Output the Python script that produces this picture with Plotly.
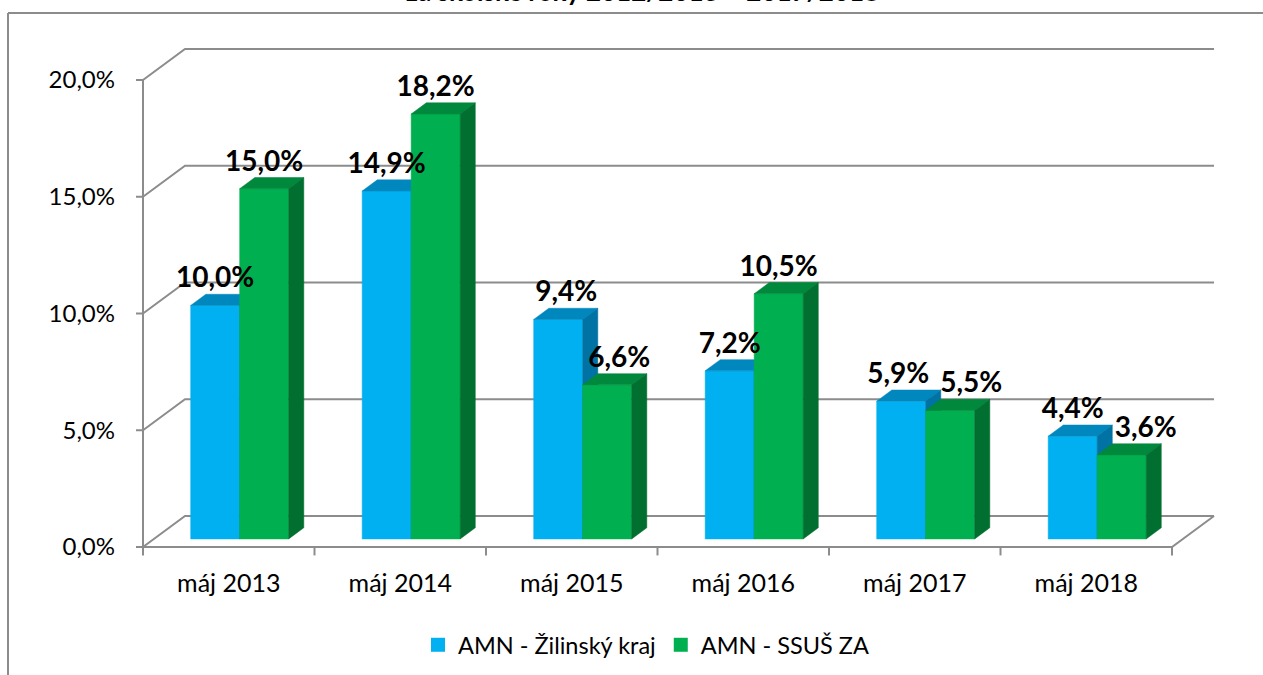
import plotly.graph_objects as go

# ---------------- data ----------------
categories = ["máj 2013", "máj 2014", "máj 2015", "máj 2016", "máj 2017", "máj 2018"]
zilinsky_kraj = [10.0, 14.9, 9.4, 7.2, 5.9, 4.4]
ssus_za = [15.0, 18.2, 6.6, 10.5, 5.5, 3.6]
series_names = ["AMN - Žilinský kraj", "AMN - SSUŠ ZA"]
y_ticks = [0, 5, 10, 15, 20]
y_tick_labels = ["0,0%", "5,0%", "10,0%", "15,0%", "20,0%"]
title_text = "za školské roky 2012/2013 – 2017/2018"

# ---------------- style ----------------
FONT = "Lato, 'Open Sans', sans-serif"
GRAY = "#8C8C8C"
BLUE = ("#00B0F0", "#0088BE", "#0072A3")   # front, top, side
GREEN = ("#00B050", "#00883C", "#006F30")
DX, DY = 0.245, 1.328   # oblique projection of full depth (x units, y units)
Z0, Z1 = 0.26, 0.62     # bar depth (fraction of floor depth)
HALF = 0.2857           # bar width (category units)
PX_PER_CAT = 171.5
# horizontal nudges (pixels) of the data labels, as placed in the original
label_nudge_blue = [0, 0, 8, 0, -3, 0]
label_nudge_green = [0, 0, 12, 0, 21, 24]
N = len(categories)


def P(x, y, z):
    return x + z * DX, y + z * DY


def faces(x0, x1, v):
    front = [P(x0, 0, Z0), P(x1, 0, Z0), P(x1, v, Z0), P(x0, v, Z0)]
    top = [P(x0, v, Z0), P(x1, v, Z0), P(x1, v, Z1), P(x0, v, Z1)]
    side = [P(x1, 0, Z0), P(x1, 0, Z1), P(x1, v, Z1), P(x1, v, Z0)]
    return front, top, side


def poly_trace(polys, color):
    xs, ys = [], []
    for poly in polys:
        for (a, b) in poly + [poly[0]]:
            xs.append(a)
            ys.append(b)
        xs.append(None)
        ys.append(None)
    return go.Scatter(x=xs, y=ys, mode="lines", fill="toself", fillcolor=color,
                      line=dict(color=color, width=0.5), hoverinfo="skip",
                      showlegend=False)


fig = go.Figure()

# ---------- back wall gridlines, floor, axis ----------
gx, gy = [], []
for t in y_ticks:
    a = P(0, t, 0)
    b = P(0, t, 1)
    c = P(N, t, 1)
    gx += [a[0], b[0], c[0], None]
    gy += [a[1], b[1], c[1], None]
f1, f2, f3 = P(0, 0, 0), P(N, 0, 0), P(N, 0, 1)
gx += [f1[0], f2[0], f3[0], None]
gy += [f1[1], f2[1], f3[1], None]
gx += [0, 0, None]
gy += [0, y_ticks[-1], None]
for t in y_ticks:
    gx += [-0.041, 0, None]
    gy += [t, t, None]
for i in range(N + 1):
    gx += [i, i, None]
    gy += [0, -0.36, None]
fig.add_trace(go.Scatter(x=gx, y=gy, mode="lines", line=dict(color=GRAY, width=2),
                         hoverinfo="skip", showlegend=False))

# ---------- 3D bars ----------
blue_f, blue_t, blue_s, green_f, green_t, green_s = [], [], [], [], [], []
for i in range(N):
    f, t, s = faces(i + 0.5 - HALF, i + 0.5, zilinsky_kraj[i])
    blue_f.append(f); blue_t.append(t); blue_s.append(s)
    f, t, s = faces(i + 0.5, i + 0.5 + HALF, ssus_za[i])
    green_f.append(f); green_t.append(t); green_s.append(s)

fig.add_trace(poly_trace(blue_f, BLUE[0]))
fig.add_trace(poly_trace(blue_t, BLUE[1]))
fig.add_trace(poly_trace(blue_s, BLUE[2]))
fig.add_trace(poly_trace(green_f, GREEN[0]))
fig.add_trace(poly_trace(green_t, GREEN[1]))
fig.add_trace(poly_trace(green_s, GREEN[2]))

# ---------- data labels ----------
def fmt(v):
    return f"{v:.1f}".replace(".", ",") + "%"

for vals, xc, nudge in ((zilinsky_kraj, 0.5 - HALF / 2, label_nudge_blue),
                        (ssus_za, 0.5 + HALF / 2, label_nudge_green)):
    lx = [i + xc + Z0 * DX + nudge[i] / PX_PER_CAT for i in range(N)]
    ly = [v + Z1 * DY for v in vals]
    fig.add_trace(go.Scatter(x=lx, y=ly, mode="text", text=[fmt(v) for v in vals],
                             textposition="top center", cliponaxis=False,
                             textfont=dict(family=FONT, size=28, color="#000000", weight="bold"),
                             hoverinfo="skip", showlegend=False))

# ---------- legend entries ----------
for name, col in zip(series_names, (BLUE[0], GREEN[0])):
    fig.add_trace(go.Scatter(x=[None], y=[None], mode="markers", name=name,
                             marker=dict(symbol="square", size=14, color=col)))

x_min = -10 / PX_PER_CAT
x_max = x_min + 1085 / PX_PER_CAT
y_min = -13 / 23.35
y_max = y_min + 520 / 23.35

fig.update_layout(
    width=1263, height=675,
    margin=dict(l=133, r=45, t=40, b=115, autoexpand=False),
    paper_bgcolor="white", plot_bgcolor="white",
    font=dict(family=FONT, size=24, color="#000000"),
    showlegend=True,
    legend=dict(orientation="h", x=(646 - 133) / 1085, xanchor="center",
                y=(560 - 645) / 520, yanchor="middle",
                font=dict(family=FONT, size=23.5, color="#000000"), itemwidth=30,
                bgcolor="rgba(0,0,0,0)"),
    xaxis=dict(range=[x_min, x_max], showgrid=False, zeroline=False, showline=False,
               tickmode="array", tickvals=[i + 0.5 for i in range(N)], ticktext=categories,
               tickfont=dict(size=25), ticks="", ticklabelstandoff=6, fixedrange=True,
               automargin=False),
    yaxis=dict(range=[y_min, y_max], showgrid=False, zeroline=False, showline=False,
               tickmode="array", tickvals=y_ticks, ticktext=y_tick_labels,
               tickfont=dict(size=24), ticks="", ticklabelstandoff=17, fixedrange=True,
               automargin=False),
    shapes=[
        dict(type="line", xref="paper", yref="paper", x0=(8 - 133) / 1085, x1=(1263 - 133) / 1085,
             y0=(560 - 13) / 520, y1=(560 - 13) / 520, line=dict(color=GRAY, width=2)),
        dict(type="line", xref="paper", yref="paper", x0=(8 - 133) / 1085, x1=(8 - 133) / 1085,
             y0=(560 - 13) / 520, y1=(560 - 680) / 520, line=dict(color=GRAY, width=2)),
    ],
    annotations=[
        dict(text=title_text, xref="paper", yref="paper", x=(642 - 133) / 1085,
             y=(560 - 9) / 520, xanchor="center", yanchor="bottom", showarrow=False,
             font=dict(family=FONT, size=26, color="#000000", weight="bold")),
    ],
)

fig.write_html("out.html", config={"displayModeBar": False},
               post_script="document.body.style.margin='0';")
